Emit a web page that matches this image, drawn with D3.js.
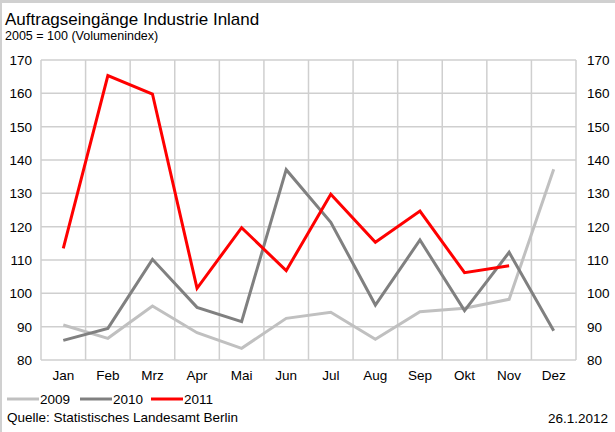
<!DOCTYPE html>
<html>
<head>
<meta charset="utf-8">
<script src="https://cdn.jsdelivr.net/npm/d3@7"></script>
<style>
  body { margin: 0; background: #fff; }
  svg text { font-family: "Liberation Sans", Arial, sans-serif; fill: #000; }
</style>
</head>
<body>
<div id="chart"></div>
<script>
const months = ["Jan", "Feb", "Mrz", "Apr", "Mai", "Jun", "Jul", "Aug", "Sep", "Okt", "Nov", "Dez"];
const values2009 = [90.5, 86.5, 96.2, 88.2, 83.5, 92.5, 94.3, 86.2, 94.5, 95.5, 98.2, 137.2];
const values2010 = [85.9, 89.5, 110.2, 95.8, 91.5, 137.1, 121.3, 96.5, 116.0, 94.8, 112.3, 88.8];
const values2011 = [113.5, 165.3, 159.8, 101.5, 119.7, 106.8, 129.7, 115.3, 124.7, 106.2, 108.3];
const yTicks = [80, 90, 100, 110, 120, 130, 140, 150, 160, 170];

const series = [
  { name: "2009", values: values2009, color: "#c0c0c0" },
  { name: "2010", values: values2010, color: "#808080" },
  { name: "2011", values: values2011, color: "#ff0000" }
];

const width = 615, height = 432;
const svg = d3.select("#chart")
  .append("svg")
  .attr("width", width)
  .attr("height", height);

// frame: only top and left edges are visible in the original
svg.append("line")
  .attr("x1", 0).attr("x2", width)
  .attr("y1", 1.5).attr("y2", 1.5)
  .attr("stroke", "#d0d0d0")
  .attr("stroke-width", 3);
svg.append("line")
  .attr("x1", 1).attr("x2", 1)
  .attr("y1", 0).attr("y2", height)
  .attr("stroke", "#d0d0d0")
  .attr("stroke-width", 2);

svg.append("text")
  .attr("x", 5).attr("y", 25)
  .style("font-size", "17px")
  .text("Auftragseingänge Industrie Inland");

svg.append("text")
  .attr("x", 5).attr("y", 40)
  .style("font-size", "12.5px")
  .text("2005 = 100 (Volumenindex)");

const x = d3.scaleBand()
  .domain(months)
  .range([41, 576]);

const y = d3.scaleLinear()
  .domain([80, 170])
  .range([360, 60]);

const grid = svg.append("g").attr("stroke", "#cfcfcf").attr("stroke-width", 1.5);

grid.selectAll("line.h")
  .data(yTicks)
  .enter()
  .append("line")
  .attr("x1", 41).attr("x2", 576)
  .attr("y1", d => y(d)).attr("y2", d => y(d));

grid.selectAll("line.v")
  .data(months.concat(["end"]))
  .enter()
  .append("line")
  .attr("x1", (d, i) => i < months.length ? x(d) : x.range()[1])
  .attr("x2", (d, i) => i < months.length ? x(d) : x.range()[1])
  .attr("y1", 60).attr("y2", 360);

svg.selectAll("text.yl")
  .data(yTicks)
  .enter()
  .append("text")
  .attr("x", 32)
  .attr("y", d => y(d) + 5)
  .attr("text-anchor", "end")
  .style("font-size", "13.5px")
  .text(d => d);

svg.selectAll("text.yr")
  .data(yTicks)
  .enter()
  .append("text")
  .attr("x", 587)
  .attr("y", d => y(d) + 5)
  .style("font-size", "13.5px")
  .text(d => d);

svg.selectAll("text.xl")
  .data(months)
  .enter()
  .append("text")
  .attr("x", d => x(d) + x.bandwidth() / 2)
  .attr("y", 380)
  .attr("text-anchor", "middle")
  .style("font-size", "13.5px")
  .text(d => d);

const line = d3.line()
  .x((d, i) => x(months[i]) + x.bandwidth() / 2)
  .y(d => y(d));

svg.selectAll("path.series")
  .data(series)
  .enter()
  .append("path")
  .attr("d", d => line(d.values))
  .attr("fill", "none")
  .attr("stroke", d => d.color)
  .attr("stroke-width", 3);

// legend
const legendX = [7, 80, 151];
const legend = svg.selectAll("g.legend")
  .data(series)
  .enter()
  .append("g")
  .attr("transform", (d, i) => `translate(${legendX[i]},399)`);

legend.append("line")
  .attr("x1", 0).attr("x2", 32)
  .attr("stroke", d => d.color)
  .attr("stroke-width", 3);

legend.append("text")
  .attr("x", 33).attr("y", 5)
  .style("font-size", "13.5px")
  .text(d => d.name);

svg.append("text")
  .attr("x", 7).attr("y", 422)
  .style("font-size", "13.5px")
  .text("Quelle: Statistisches Landesamt Berlin");

svg.append("text")
  .attr("x", 608).attr("y", 423)
  .attr("text-anchor", "end")
  .style("font-size", "13.5px")
  .text("26.1.2012");
</script>
</body>
</html>
